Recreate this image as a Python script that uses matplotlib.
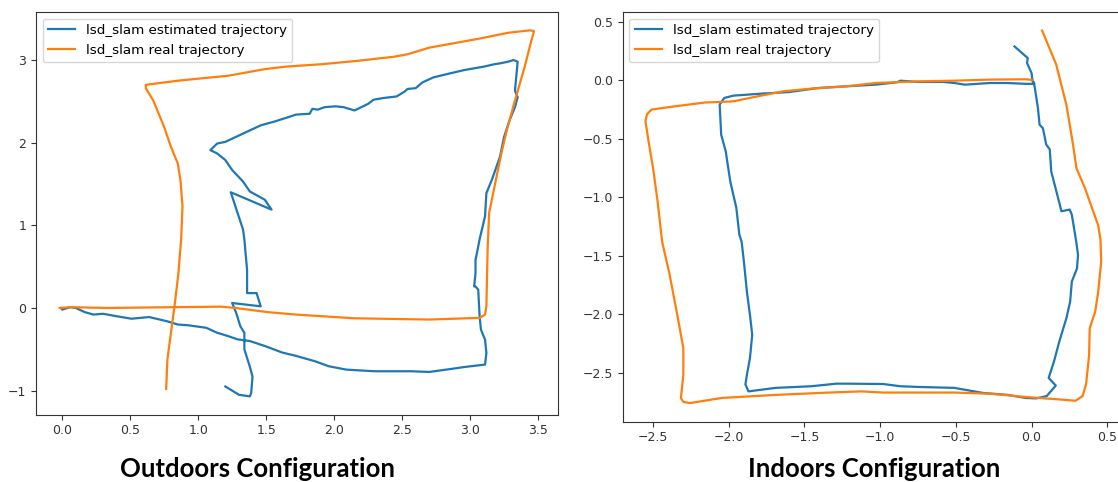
import matplotlib
matplotlib.use("Agg")
import matplotlib.pyplot as plt

# ---- Outdoors data ----
out_est_x = [-0.01, 0.0, 0.06, 0.10, 0.166, 0.23, 0.30, 0.40, 0.51, 0.64, 0.77, 0.85, 0.93, 1.06, 1.14,
             1.22, 1.29, 1.38, 1.49, 1.62, 1.72, 1.86, 1.96, 2.09, 2.30, 2.57, 2.70, 2.86, 2.96, 3.11,
             3.12, 3.11, 3.08, 3.07, 3.06, 3.04, 3.03, 3.04, 3.04, 3.06, 3.07,
             3.11, 3.12, 3.16, 3.22, 3.25, 3.29, 3.33, 3.35, 3.33, 3.35, 3.32, 3.28, 3.22, 3.18, 3.10,
             2.96, 2.83, 2.78, 2.73, 2.65, 2.60, 2.54, 2.52, 2.46, 2.36, 2.29, 2.25, 2.15, 2.07, 2.01,
             1.93, 1.88, 1.84, 1.82, 1.72, 1.57, 1.46, 1.33, 1.20, 1.14, 1.09,
             1.14, 1.20, 1.25, 1.33, 1.38, 1.49, 1.54, 1.24, 1.29, 1.33, 1.34,
             1.36, 1.36, 1.43, 1.46, 1.25, 1.28, 1.31, 1.34, 1.34, 1.38, 1.40, 1.39, 1.38, 1.30, 1.20]
out_est_y = [0.00, -0.02, 0.01, 0.00, -0.05, -0.08, -0.07, -0.10, -0.13, -0.11, -0.16, -0.20, -0.21, -0.24, -0.30,
             -0.34, -0.38, -0.40, -0.46, -0.54, -0.58, -0.645, -0.705, -0.746, -0.766, -0.766, -0.774, -0.738, -0.714, -0.685,
             -0.544, -0.383, -0.262, -0.10, 0.22, 0.26, 0.26, 0.42, 0.58, 0.746, 0.83,
             1.11, 1.39, 1.55, 1.83, 2.07, 2.27, 2.43, 2.55, 2.63, 2.98, 3.00, 2.98, 2.96, 2.95, 2.92,
             2.88, 2.83, 2.81, 2.79, 2.73, 2.66, 2.65, 2.62, 2.56, 2.54, 2.52, 2.47, 2.39, 2.43, 2.44,
             2.43, 2.40, 2.41, 2.35, 2.34, 2.26, 2.21, 2.11, 2.01, 1.99, 1.91,
             1.87, 1.79, 1.67, 1.53, 1.41, 1.31, 1.19, 1.40, 1.15, 0.95, 0.83,
             0.46, 0.18, 0.18, 0.02, 0.06, -0.06, -0.22, -0.30, -0.50, -0.71, -0.83, -1.03, -1.07, -1.05, -0.95]

out_real_x = [-0.018, 0.06, 0.325, 0.85, 1.17, 1.275, 1.51, 1.72, 2.15, 2.70, 3.07, 3.11, 3.12, 3.125, 3.13,
              3.14, 3.19, 3.23, 3.27, 3.33, 3.40, 3.45, 3.47, 3.44, 3.28, 3.07, 2.70, 2.54, 2.44, 2.17, 1.91,
              1.64, 1.49, 1.22, 0.85, 0.615, 0.615, 0.67, 0.75, 0.80, 0.85, 0.87, 0.885, 0.875, 0.855,
              0.826, 0.80, 0.774, 0.765]
out_real_y = [0.0, 0.01, 0.0, 0.01, 0.016, 0.0, -0.05, -0.08, -0.125, -0.14, -0.12, -0.08, 0.02, 0.42, 0.75,
              1.15, 1.55, 1.87, 2.15, 2.51, 2.91, 3.23, 3.35, 3.36, 3.33, 3.26, 3.15, 3.07, 3.04, 2.99, 2.95,
              2.92, 2.89, 2.81, 2.75, 2.70, 2.66, 2.51, 2.19, 1.95, 1.75, 1.55, 1.23, 0.83, 0.42,
              0.02, -0.30, -0.625, -0.98]

# ---- Indoors data ----
in_est_x = [-0.113, -0.025, -0.03, 0.0, 0.005, 0.019, -0.04, -0.158, -0.276, -0.44, -0.51, -0.58,
            -0.75, -0.866, -0.89, -1.03, -1.22, -1.41, -1.60, -1.785, -1.97, -2.03, -2.06, -2.05, -2.02, -1.99,
            -1.95, -1.93, -1.915, -1.90, -1.88, -1.86, -1.845, -1.86, -1.88, -1.89, -1.87, -1.69, -1.455, -1.29,
            -1.22, -0.98, -0.866, -0.75, -0.51, -0.323, -0.158, -0.04, 0.03, 0.10, 0.16, 0.113, 0.149, 0.184,
            0.231, 0.255, 0.266, 0.30, 0.307, 0.295, 0.266, 0.252, 0.197, 0.186, 0.13, 0.12, 0.097, 0.075,
            0.053, 0.042, 0.02, 0.005]
in_est_y = [0.29, 0.19, 0.148, 0.062, 0.005, -0.03, -0.03, -0.023, -0.023, -0.037, -0.023, -0.014,
            -0.014, -0.003, -0.017, -0.037, -0.051, -0.066, -0.10, -0.114, -0.131, -0.151, -0.208, -0.465, -0.607, -0.864,
            -1.09, -1.32, -1.38, -1.55, -1.81, -2.006, -2.176, -2.375, -2.517, -2.60, -2.66, -2.63, -2.616, -2.594,
            -2.594, -2.597, -2.616, -2.622, -2.63, -2.673, -2.69, -2.716, -2.72, -2.70, -2.61, -2.545, -2.40, -2.23,
            -2.03, -1.89, -1.72, -1.61, -1.494, -1.38, -1.15, -1.105, -1.12, -1.06, -0.78, -0.59, -0.55, -0.41,
            -0.38, -0.237, -0.05, 0.0]

in_real_x = [0.07, 0.163, 0.23, 0.274, 0.296, 0.352, 0.407, 0.44, 0.455, 0.46, 0.44, 0.42, 0.384, 0.38, 0.36, 0.337,
             0.29, 0.196, -0.017, -0.276, -0.51, -0.75, -0.98, -1.125, -1.337, -1.69, -2.045, -2.257, -2.30,
             -2.316, -2.30, -2.30, -2.34, -2.39, -2.41, -2.44, -2.47, -2.50, -2.53, -2.55, -2.54, -2.51, -2.40,
             -2.16, -1.97, -1.81, -1.64, -1.455, -1.22, -1.03, -0.75, -0.51, -0.276, -0.04, 0.007]
in_real_y = [0.425, 0.134, -0.21, -0.55, -0.75, -0.92, -1.12, -1.24, -1.36, -1.55, -1.81, -1.98, -2.12, -2.35, -2.60, -2.70,
             -2.74, -2.73, -2.71, -2.68, -2.67, -2.67, -2.67, -2.66, -2.67, -2.69, -2.716, -2.76, -2.75,
             -2.716, -2.517, -2.29, -2.006, -1.665, -1.55, -1.38, -1.035, -0.75, -0.52, -0.35, -0.29, -0.25, -0.23,
             -0.19, -0.18, -0.137, -0.094, -0.071, -0.051, -0.023, -0.009, -0.003, 0.006, 0.009, 0.003]

label_est = "lsd_slam estimated trajectory"
label_real = "lsd_slam real trajectory"
titles = ["Outdoors Configuration", "Indoors Configuration"]

W, H = 1118, 482
fig = plt.figure(figsize=(W / 100, H / 100), dpi=100)

def px_axes(x0, y0, x1, y1):
    return fig.add_axes([x0 / W, 1 - y1 / H, (x1 - x0) / W, (y1 - y0) / H])

ax1 = px_axes(36, 12, 557.7, 414.7)
ax2 = px_axes(622.7, 12, 1124, 421.7)

lw = 1.6
for ax, ex, ey, rx, ry in [(ax1, out_est_x, out_est_y, out_real_x, out_real_y),
                           (ax2, in_est_x, in_est_y, in_real_x, in_real_y)]:
    ax.plot(ex, ey, color="#1f77b4", lw=lw, label=label_est)
    ax.plot(rx, ry, color="#ff7f0e", lw=lw, label=label_real)
    ax.tick_params(labelsize=9, colors="#333333")
    for s in ax.spines.values():
        s.set_color("#333333")
    ax.legend(loc="upper left", fontsize=9.7, framealpha=0.8)

ax1.set_xticks([0.0, 0.5, 1.0, 1.5, 2.0, 2.5, 3.0, 3.5])
ax1.set_yticks([-1, 0, 1, 2, 3])
ax2.set_xticks([-2.5, -2.0, -1.5, -1.0, -0.5, 0.0, 0.5])
ax2.set_yticks([0.5, 0.0, -0.5, -1.0, -1.5, -2.0, -2.5])

fig.text(257 / W, 1 - 477 / H, titles[0], ha="center", va="baseline",
         fontsize=18.5, fontweight="bold", family=["Lato", "DejaVu Sans"])
fig.text(874 / W, 1 - 477 / H, titles[1], ha="center", va="baseline",
         fontsize=18.5, fontweight="bold", family=["Lato", "DejaVu Sans"])

fig.savefig("out.png", dpi=100)
